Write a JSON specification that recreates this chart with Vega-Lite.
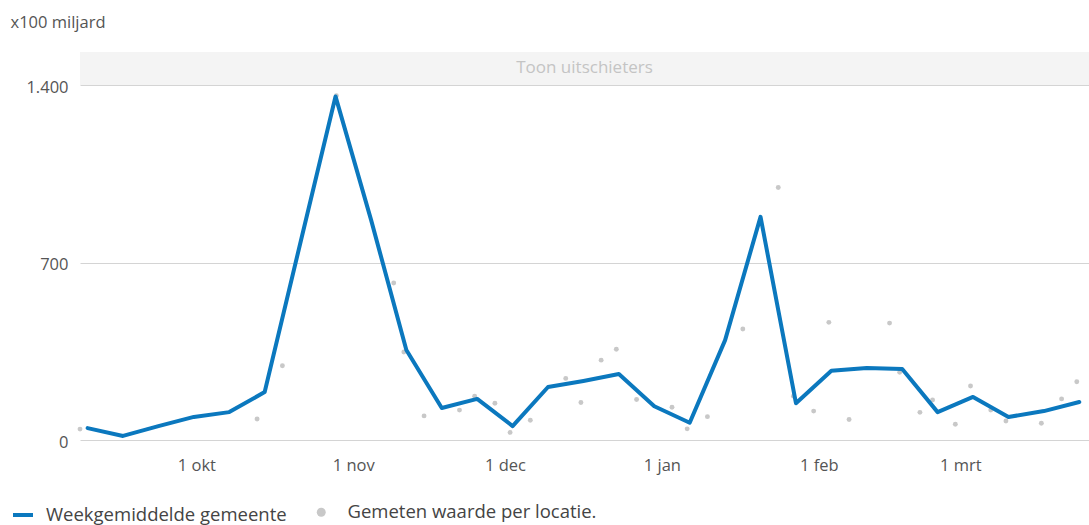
{
  "$schema": "https://vega.github.io/schema/vega-lite/v6.json",
  "width": 1009,
  "height": 355,
  "autosize": {"type": "none"},
  "padding": {"left": 80, "top": 85, "right": 0, "bottom": 85},
  "background": "white",
  "datasets": {
    "week": [
      {"datum": "2022-09-09T12:00:00", "waarde": 47, "serie": "Weekgemiddelde gemeente"},
      {"datum": "2022-09-16T12:00:00", "waarde": 16, "serie": "Weekgemiddelde gemeente"},
      {"datum": "2022-09-23T12:00:00", "waarde": 55, "serie": "Weekgemiddelde gemeente"},
      {"datum": "2022-09-30T12:00:00", "waarde": 91, "serie": "Weekgemiddelde gemeente"},
      {"datum": "2022-10-07T12:00:00", "waarde": 110, "serie": "Weekgemiddelde gemeente"},
      {"datum": "2022-10-14T12:00:00", "waarde": 189, "serie": "Weekgemiddelde gemeente"},
      {"datum": "2022-10-21T12:00:00", "waarde": 773, "serie": "Weekgemiddelde gemeente"},
      {"datum": "2022-10-28T12:00:00", "waarde": 1355, "serie": "Weekgemiddelde gemeente"},
      {"datum": "2022-11-04T12:00:00", "waarde": 870, "serie": "Weekgemiddelde gemeente"},
      {"datum": "2022-11-11T12:00:00", "waarde": 355, "serie": "Weekgemiddelde gemeente"},
      {"datum": "2022-11-18T12:00:00", "waarde": 126, "serie": "Weekgemiddelde gemeente"},
      {"datum": "2022-11-25T12:00:00", "waarde": 162, "serie": "Weekgemiddelde gemeente"},
      {"datum": "2022-12-02T12:00:00", "waarde": 55, "serie": "Weekgemiddelde gemeente"},
      {"datum": "2022-12-09T12:00:00", "waarde": 209, "serie": "Weekgemiddelde gemeente"},
      {"datum": "2022-12-16T12:00:00", "waarde": 233, "serie": "Weekgemiddelde gemeente"},
      {"datum": "2022-12-23T12:00:00", "waarde": 260, "serie": "Weekgemiddelde gemeente"},
      {"datum": "2022-12-30T12:00:00", "waarde": 133, "serie": "Weekgemiddelde gemeente"},
      {"datum": "2023-01-06T12:00:00", "waarde": 68, "serie": "Weekgemiddelde gemeente"},
      {"datum": "2023-01-13T12:00:00", "waarde": 394, "serie": "Weekgemiddelde gemeente"},
      {"datum": "2023-01-20T12:00:00", "waarde": 880, "serie": "Weekgemiddelde gemeente"},
      {"datum": "2023-01-27T12:00:00", "waarde": 145, "serie": "Weekgemiddelde gemeente"},
      {"datum": "2023-02-03T12:00:00", "waarde": 273, "serie": "Weekgemiddelde gemeente"},
      {"datum": "2023-02-10T12:00:00", "waarde": 284, "serie": "Weekgemiddelde gemeente"},
      {"datum": "2023-02-17T12:00:00", "waarde": 280, "serie": "Weekgemiddelde gemeente"},
      {"datum": "2023-02-24T12:00:00", "waarde": 110, "serie": "Weekgemiddelde gemeente"},
      {"datum": "2023-03-03T12:00:00", "waarde": 170, "serie": "Weekgemiddelde gemeente"},
      {"datum": "2023-03-10T12:00:00", "waarde": 91, "serie": "Weekgemiddelde gemeente"},
      {"datum": "2023-03-17T12:00:00", "waarde": 114, "serie": "Weekgemiddelde gemeente"},
      {"datum": "2023-03-24T12:00:00", "waarde": 150, "serie": "Weekgemiddelde gemeente"}
    ],
    "metingen": [
      {"datum": "2022-09-08T00:00:00", "waarde": 43, "serie": "Gemeten waarde per locatie."},
      {"datum": "2022-10-13T00:00:00", "waarde": 83, "serie": "Gemeten waarde per locatie."},
      {"datum": "2022-10-18T00:00:00", "waarde": 293, "serie": "Gemeten waarde per locatie."},
      {"datum": "2022-10-28T16:00:00", "waarde": 1358, "serie": "Gemeten waarde per locatie."},
      {"datum": "2022-11-09T00:00:00", "waarde": 619, "serie": "Gemeten waarde per locatie."},
      {"datum": "2022-11-11T00:00:00", "waarde": 347, "serie": "Gemeten waarde per locatie."},
      {"datum": "2022-11-15T00:00:00", "waarde": 95, "serie": "Gemeten waarde per locatie."},
      {"datum": "2022-11-22T00:00:00", "waarde": 118, "serie": "Gemeten waarde per locatie."},
      {"datum": "2022-11-25T00:00:00", "waarde": 173, "serie": "Gemeten waarde per locatie."},
      {"datum": "2022-11-29T00:00:00", "waarde": 145, "serie": "Gemeten waarde per locatie."},
      {"datum": "2022-12-02T00:00:00", "waarde": 30, "serie": "Gemeten waarde per locatie."},
      {"datum": "2022-12-06T00:00:00", "waarde": 78, "serie": "Gemeten waarde per locatie."},
      {"datum": "2022-12-13T00:00:00", "waarde": 243, "serie": "Gemeten waarde per locatie."},
      {"datum": "2022-12-16T00:00:00", "waarde": 148, "serie": "Gemeten waarde per locatie."},
      {"datum": "2022-12-20T00:00:00", "waarde": 315, "serie": "Gemeten waarde per locatie."},
      {"datum": "2022-12-23T00:00:00", "waarde": 358, "serie": "Gemeten waarde per locatie."},
      {"datum": "2022-12-27T00:00:00", "waarde": 160, "serie": "Gemeten waarde per locatie."},
      {"datum": "2023-01-03T00:00:00", "waarde": 129, "serie": "Gemeten waarde per locatie."},
      {"datum": "2023-01-06T00:00:00", "waarde": 44, "serie": "Gemeten waarde per locatie."},
      {"datum": "2023-01-10T00:00:00", "waarde": 92, "serie": "Gemeten waarde per locatie."},
      {"datum": "2023-01-17T00:00:00", "waarde": 438, "serie": "Gemeten waarde per locatie."},
      {"datum": "2023-01-24T00:00:00", "waarde": 996, "serie": "Gemeten waarde per locatie."},
      {"datum": "2023-01-27T00:00:00", "waarde": 173, "serie": "Gemeten waarde per locatie."},
      {"datum": "2023-01-31T00:00:00", "waarde": 114, "serie": "Gemeten waarde per locatie."},
      {"datum": "2023-02-03T00:00:00", "waarde": 464, "serie": "Gemeten waarde per locatie."},
      {"datum": "2023-02-07T00:00:00", "waarde": 81, "serie": "Gemeten waarde per locatie."},
      {"datum": "2023-02-15T00:00:00", "waarde": 461, "serie": "Gemeten waarde per locatie."},
      {"datum": "2023-02-17T00:00:00", "waarde": 267, "serie": "Gemeten waarde per locatie."},
      {"datum": "2023-02-21T00:00:00", "waarde": 109, "serie": "Gemeten waarde per locatie."},
      {"datum": "2023-02-23T12:00:00", "waarde": 158, "serie": "Gemeten waarde per locatie."},
      {"datum": "2023-02-28T00:00:00", "waarde": 62, "serie": "Gemeten waarde per locatie."},
      {"datum": "2023-03-03T00:00:00", "waarde": 213, "serie": "Gemeten waarde per locatie."},
      {"datum": "2023-03-07T00:00:00", "waarde": 118, "serie": "Gemeten waarde per locatie."},
      {"datum": "2023-03-10T00:00:00", "waarde": 75, "serie": "Gemeten waarde per locatie."},
      {"datum": "2023-03-17T00:00:00", "waarde": 66, "serie": "Gemeten waarde per locatie."},
      {"datum": "2023-03-21T00:00:00", "waarde": 162, "serie": "Gemeten waarde per locatie."},
      {"datum": "2023-03-24T00:00:00", "waarde": 230, "serie": "Gemeten waarde per locatie."}
    ]
  },
  "layer": [
    {
      "data": {"values": [{"band": "Toon uitschieters"}]},
      "mark": {"type": "rect", "color": "#f4f4f4", "clip": false},
      "encoding": {
        "x": {"datum": {"year": 2022, "month": "sep", "date": 8}, "type": "temporal", "scale": {"domain": ["2022-09-08T00:00:00", "2023-03-26T10:00:00"]}, "title": null, "axis": {"grid": false, "domain": false, "ticks": false, "tickSize": 0, "labelPadding": 25, "labelBaseline": "middle", "tickCount": {"interval": "month", "step": 1}, "labelExpr": "date(datum.value) + ' ' + ['jan','feb','mrt','apr','mei','jun','jul','aug','sep','okt','nov','dec'][month(datum.value)]"}},
        "x2": {"datum": {"year": 2023, "month": "mar", "date": 26, "hours": 10}},
        "y": {"datum": 1400, "type": "quantitative", "scale": {"domain": [0, 1400], "nice": false}, "title": "x100 miljard", "axis": {"values": [0, 700, 1400], "labelExpr": "replace(format(datum.value, ','), ',', '.')"}},
        "y2": {"datum": 1530}
      }
    },
    {
      "data": {"values": [{"band": "Toon uitschieters"}]},
      "mark": {"type": "text", "color": "#c4c4c4", "fontSize": 17, "font": "Open Sans", "align": "center", "baseline": "middle", "clip": false},
      "encoding": {
        "text": {"field": "band", "type": "nominal"},
        "x": {"datum": {"year": 2022, "month": "dec", "date": 16, "hours": 17}, "type": "temporal", "scale": {"domain": ["2022-09-08T00:00:00", "2023-03-26T10:00:00"]}, "title": null, "axis": {"grid": false, "domain": false, "ticks": false, "tickSize": 0, "labelPadding": 25, "labelBaseline": "middle", "tickCount": {"interval": "month", "step": 1}, "labelExpr": "date(datum.value) + ' ' + ['jan','feb','mrt','apr','mei','jun','jul','aug','sep','okt','nov','dec'][month(datum.value)]"}},
        "y": {"datum": 1468, "type": "quantitative", "scale": {"domain": [0, 1400], "nice": false}, "title": "x100 miljard", "axis": {"values": [0, 700, 1400], "labelExpr": "replace(format(datum.value, ','), ',', '.')"}}
      }
    },
    {
      "data": {"name": "metingen"},
      "mark": {"type": "point", "filled": true, "size": 24, "opacity": 1, "strokeWidth": 0},
      "encoding": {
        "x": {"field": "datum", "type": "temporal", "scale": {"domain": ["2022-09-08T00:00:00", "2023-03-26T10:00:00"]}, "title": null, "axis": {"grid": false, "domain": false, "ticks": false, "tickSize": 0, "labelPadding": 25, "labelBaseline": "middle", "tickCount": {"interval": "month", "step": 1}, "labelExpr": "date(datum.value) + ' ' + ['jan','feb','mrt','apr','mei','jun','jul','aug','sep','okt','nov','dec'][month(datum.value)]"}},
        "y": {"field": "waarde", "type": "quantitative", "scale": {"domain": [0, 1400], "nice": false}, "title": "x100 miljard", "axis": {"values": [0, 700, 1400], "labelExpr": "replace(format(datum.value, ','), ',', '.')"}},
        "fill": {"field": "serie", "type": "nominal", "scale": {"range": ["#c8c8c8"]}, "legend": {"orient": "none", "legendX": 232, "legendY": 418, "title": null, "symbolType": "circle", "symbolSize": 80, "labelOffset": 17, "labelLimit": 500, "padding": 0}}
      }
    },
    {
      "data": {"name": "week"},
      "mark": {"type": "line", "strokeWidth": 4, "strokeJoin": "round", "strokeCap": "round"},
      "encoding": {
        "x": {"field": "datum", "type": "temporal", "scale": {"domain": ["2022-09-08T00:00:00", "2023-03-26T10:00:00"]}, "title": null, "axis": {"grid": false, "domain": false, "ticks": false, "tickSize": 0, "labelPadding": 25, "labelBaseline": "middle", "tickCount": {"interval": "month", "step": 1}, "labelExpr": "date(datum.value) + ' ' + ['jan','feb','mrt','apr','mei','jun','jul','aug','sep','okt','nov','dec'][month(datum.value)]"}},
        "y": {"field": "waarde", "type": "quantitative", "scale": {"domain": [0, 1400], "nice": false}, "title": "x100 miljard", "axis": {"values": [0, 700, 1400], "labelExpr": "replace(format(datum.value, ','), ',', '.')"}},
        "stroke": {"field": "serie", "type": "nominal", "scale": {"range": ["#0b78be"]}, "legend": {"orient": "none", "legendX": -69, "legendY": 418, "title": null, "symbolType": "stroke", "symbolSize": 400, "symbolStrokeWidth": 4, "labelOffset": 11, "labelLimit": 500, "padding": 0}}
      }
    }
  ],
  "config": {
    "view": {"stroke": null},
    "font": "Open Sans",
    "axisX": {"labelFontSize": 16.5, "labelColor": "#555555", "labelFont": "Open Sans"},
    "axisY": {"grid": true, "gridColor": "#d4d4d4", "gridWidth": 1, "domain": false, "ticks": false, "tickSize": 0, "labelPadding": 12, "labelFontSize": 16.5, "labelColor": "#555555", "labelFont": "Open Sans", "labelBaseline": "middle", "labelOffset": 2, "titleAngle": 0, "titleAlign": "left", "titleBaseline": "middle", "titleX": -70, "titleY": -63, "titleFontSize": 16.5, "titleFontWeight": "normal", "titleColor": "#555555", "titleFont": "Open Sans"},
    "legend": {"labelFontSize": 18.5, "labelColor": "#444444", "labelFont": "Open Sans", "direction": "horizontal"}
  }
}
